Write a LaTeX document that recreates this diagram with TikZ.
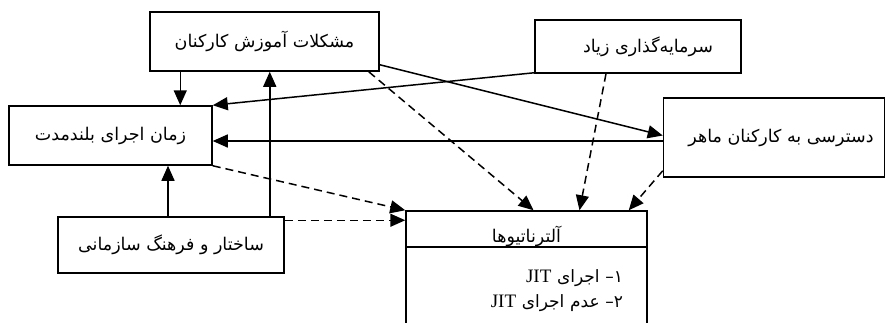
\documentclass[tikz,border=0pt]{standalone}
\usepackage{fontspec}
\setmainfont{Liberation Serif}
\newfontfamily\persianfont[Script=Arabic]{DejaVu Sans}
\TeXXeTstate=1
\usetikzlibrary{positioning,arrows.meta}

\newcommand{\fa}[1]{{\persianfont\beginR #1\endR}}

\begin{document}
\begin{tikzpicture}[x=1pt,y=-1pt,
   box/.style={draw,line width=1.5pt,inner sep=0pt,
     font=\persianfont\fontsize{17.5}{20}\selectfont},
   listbox/.style={box,font=\fontsize{17}{25}\selectfont,align=right},
   arr/.style={line width=1.5pt,-{Triangle[length=15pt,width=13pt]}},
   darr/.style={arr,dash pattern=on 8pt off 5pt}]
 \clip (0,0) rectangle (885,322);

 %factors
 \node[box,minimum width=229pt,minimum height=59pt] (train)   at (264.5,41.5) {\fa{مشکلات آموزش کارکنان}};
 \node[box,minimum width=203pt,minimum height=59pt] (time)    at (110.5,135.5) {\fa{زمان اجرای بلندمدت}};
 \node[box,minimum width=206pt,minimum height=53pt] (invest)  at (638,46.5) {\hspace*{20pt}\fa{سرمایه^^^^200cگذاری زیاد}};
 \node[box,minimum width=221pt,minimum height=79pt] (skill)   at (774,137.5) {\hspace*{14pt}\fa{دسترسی به کارکنان ماهر}};
 \node[box,minimum width=226pt,minimum height=56pt] (culture) at (171,245) {\fa{ساختار و فرهنگ سازمانی}};

 %alternatives
 \node[box,minimum width=241pt,minimum height=36pt] (alt) at (526.5,229) {\raisebox{-13pt}[0pt][0pt]{\fa{آلترناتیوها}}};
 \node[listbox,below=-1.5pt of alt,minimum width=241pt,minimum height=87pt,text width=193pt] (altlist)
   {\persianfont\beginR ۱– اجرای {\rmfamily\beginL\fontsize{19}{25}\selectfont JIT\endL}\endR\\
    \persianfont\beginR ۲– عدم اجرای {\rmfamily\beginL\fontsize{19}{25}\selectfont JIT\endL}\endR};

 %solid links
 \coordinate (t1) at ([xshift=31pt]train.south west);
 \draw[arr] (t1) -- (t1 |- time.north);
 \coordinate (c1) at ([xshift=-15pt]culture.north east);
 \draw[arr] (c1) -- (c1 |- train.south);
 \coordinate (c2) at ([xshift=-3pt]culture.north);
 \draw[arr] (c2) -- (c2 |- time.south);
 \draw[arr] ([yshift=1pt]invest.south west) -- (time.north east);
 \draw[arr] ([yshift=7pt]train.south east) -- ([yshift=2pt]skill.west);
 \coordinate (s1) at ([yshift=-3.5pt]skill.west);
 \draw[arr] (s1) -- (s1 -| time.east);

 %dashed links to alternatives
 \draw[darr] ([xshift=-11pt]train.south east) -- ([xshift=7pt]alt.north);
 \draw[darr] ([xshift=-32pt]invest.south) -- ([xshift=53pt]alt.north);
 \draw[darr] ([yshift=7pt]skill.south west) -- ([xshift=-19pt]alt.north east);
 \draw[darr] (time.south east) -- (alt.north west);
 \draw[darr] ([yshift=-4pt]culture.north east) -- ([yshift=-10pt]alt.north west);
\end{tikzpicture}
\end{document}
